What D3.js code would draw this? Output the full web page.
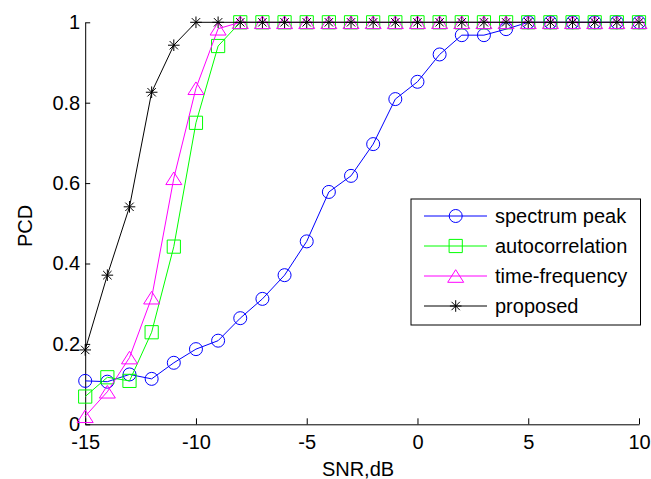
<!DOCTYPE html>
<html>
<head>
<meta charset="utf-8">
<script src="https://cdn.jsdelivr.net/npm/d3@7"></script>
<style>
  html, body { margin: 0; padding: 0; background: #fff; }
  svg { display: block; font-family: "Liberation Sans", Arial, sans-serif; }
</style>
</head>
<body>
<svg id="chart" width="651" height="479"></svg>
<script>
// SNR values (dB)
const snr = [-15, -14, -13, -12, -11, -10, -9, -8, -7, -6, -5, -4, -3, -2, -1, 0, 1, 2, 3, 4, 5, 6, 7, 8, 9, 10];

// Probability of correct detection per method
const spectrumPeak = [0.108, 0.106, 0.124, 0.113, 0.153, 0.187, 0.208, 0.264, 0.312, 0.371, 0.455, 0.578, 0.618, 0.697, 0.809, 0.852, 0.920, 0.968, 0.968, 0.983, 1, 1, 1, 1, 1, 1];
const autocorrelation = [0.069, 0.117, 0.108, 0.229, 0.442, 0.750, 0.941, 1, 1, 1, 1, 1, 1, 1, 1, 1, 1, 1, 1, 1, 1, 1, 1, 1, 1, 1];
const timeFrequency = [0.020, 0.081, 0.166, 0.315, 0.612, 0.836, 0.984, 1, 1, 1, 1, 1, 1, 1, 1, 1, 1, 1, 1, 1, 1, 1, 1, 1, 1, 1];
const proposed = [0.185, 0.371, 0.541, 0.826, 0.943, 1, 1, 1, 1, 1, 1, 1, 1, 1, 1, 1, 1, 1, 1, 1, 1, 1, 1, 1, 1, 1];

const seriesNames = ["spectrum peak", "autocorrelation", "time-frequency", "proposed"];
const xTicks = [-15, -10, -5, 0, 5, 10];
const yTicks = [0, 0.2, 0.4, 0.6, 0.8, 1];

const series = [
  { name: seriesNames[0], values: spectrumPeak, color: "#0000ff", marker: "circle" },
  { name: seriesNames[1], values: autocorrelation, color: "#00ff00", marker: "square" },
  { name: seriesNames[2], values: timeFrequency, color: "#ff00ff", marker: "triangle" },
  { name: seriesNames[3], values: proposed, color: "#000000", marker: "star" }
];

const svg = d3.select("#chart");
const plotLeft = 85.2, plotRight = 639, plotTop = 22.3, plotBottom = 424.3;

const x = d3.scaleLinear().domain([-15, 10]).range([plotLeft, plotRight]);
const y = d3.scaleLinear().domain([0, 1]).range([plotBottom, plotTop]);

// Axes: left and bottom only, ticks pointing inward
const xAxis = d3.axisBottom(x)
  .tickValues(xTicks)
  .tickFormat(d => String(d))
  .tickSizeInner(-6)
  .tickSizeOuter(0)
  .tickPadding(11);
const yAxis = d3.axisLeft(y)
  .tickValues(yTicks)
  .tickFormat(d => d3.format("~g")(d))
  .tickSizeInner(-5)
  .tickSizeOuter(0)
  .tickPadding(5);

const gx = svg.append("g").attr("transform", `translate(0,${plotBottom})`).call(xAxis);
const gy = svg.append("g").attr("transform", `translate(${plotLeft},0)`).call(yAxis);
[gx, gy].forEach(g => {
  g.selectAll("text").attr("font-size", 20).attr("font-family", "'Liberation Sans', Arial, sans-serif").attr("fill", "#000");
  g.selectAll("line").attr("stroke", "#000");
  g.select(".domain").attr("stroke", "#000");
});

// Axis titles
svg.append("text")
  .attr("x", 358).attr("y", 476)
  .attr("text-anchor", "middle")
  .attr("font-size", 20)
  .text("SNR,dB");
svg.append("text")
  .attr("transform", "translate(32,226) rotate(-90)")
  .attr("text-anchor", "middle")
  .attr("font-size", 20)
  .text("PCD");

// Marker shapes
function markerPath(type) {
  switch (type) {
    case "circle": {
      const r = 6.5;
      return `M${-r},0A${r},${r} 0 1,0 ${r},0A${r},${r} 0 1,0 ${-r},0Z`;
    }
    case "square": {
      const s = 6.6;
      return `M${-s},${-s}H${s}V${s}H${-s}Z`;
    }
    case "triangle":
      return "M0,-6.3L8,6.3L-8,6.3Z";
    case "star": {
      const a = 5.8, d = 4.2;
      return `M${-a},0H${a}M0,${-a}V${a}M${-d},${-d}L${d},${d}M${-d},${d}L${d},${-d}`;
    }
  }
}

const line = d3.line().x(d => x(d[0])).y(d => y(d[1]));

const plot = svg.append("g");
series.forEach(s => {
  const pts = snr.map((v, i) => [v, s.values[i]]);
  const g = plot.append("g");
  g.append("path")
    .attr("d", line(pts))
    .attr("fill", "none")
    .attr("stroke", s.color)
    .attr("stroke-width", 1);
  g.selectAll("path.mk")
    .data(pts)
    .join("path")
    .attr("class", "mk")
    .attr("transform", d => `translate(${x(d[0])},${y(d[1])})`)
    .attr("d", markerPath(s.marker))
    .attr("fill", "none")
    .attr("stroke", s.color)
    .attr("stroke-width", 1);
});

// Legend
const legend = svg.append("g");
legend.append("rect")
  .attr("x", 411).attr("y", 199)
  .attr("width", 229.5).attr("height", 126)
  .attr("fill", "#fff")
  .attr("stroke", "#000")
  .attr("stroke-width", 1);
series.forEach((s, i) => {
  const ly = 216 + i * 30;
  legend.append("line")
    .attr("x1", 424).attr("x2", 487)
    .attr("y1", ly).attr("y2", ly)
    .attr("stroke", s.color).attr("stroke-width", 1);
  legend.append("path")
    .attr("transform", `translate(455.7,${ly})`)
    .attr("d", markerPath(s.marker))
    .attr("fill", "none")
    .attr("stroke", s.color).attr("stroke-width", 1);
  legend.append("text")
    .attr("x", 495).attr("y", ly)
    .attr("dy", "0.35em")
    .attr("font-size", 20)
    .text(s.name);
});
</script>
</body>
</html>
